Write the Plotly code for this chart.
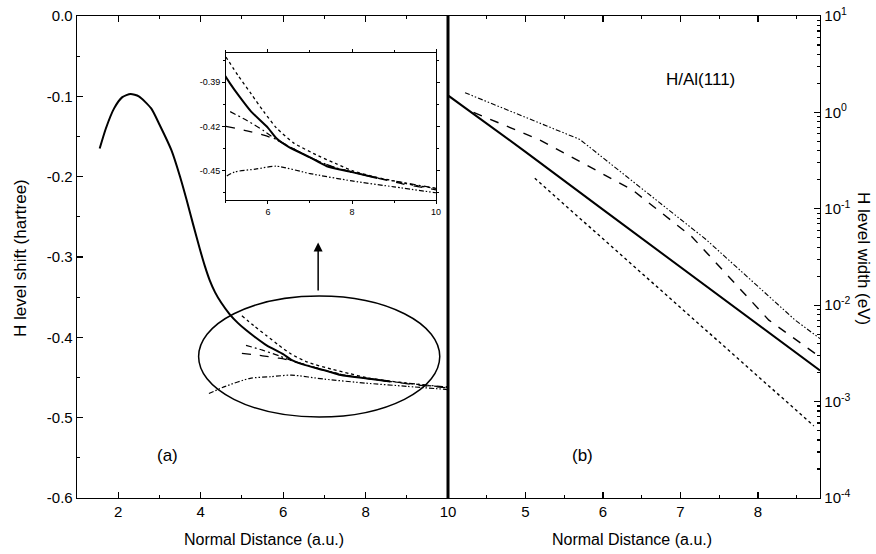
import plotly.graph_objects as go

# ---------------- data: panel (a) level shift ----------------
shift_solid_x = [1.55, 1.7, 1.9, 2.1, 2.3, 2.5, 2.8, 3.0, 3.29, 3.5, 3.66, 3.82, 3.98, 4.1, 4.22, 4.35,
                 4.5, 4.7, 4.9, 5.1, 5.3, 5.6, 6.0, 6.2, 6.5, 7.0, 7.4, 8.0, 8.6]
shift_solid_y = [-0.165, -0.14, -0.115, -0.101, -0.097, -0.100, -0.115, -0.135, -0.167, -0.200, -0.229,
                 -0.260, -0.290, -0.311, -0.329, -0.344, -0.357, -0.371, -0.382, -0.391, -0.399, -0.410,
                 -0.421, -0.428, -0.434, -0.441, -0.447, -0.451, -0.455]
shift_dotted_x = [5.0, 5.3, 5.6, 5.9, 6.2, 6.6, 7.2, 7.6, 8.0, 8.5, 9.0, 9.5, 10.0]
shift_dotted_y = [-0.373, -0.386, -0.398, -0.410, -0.421, -0.431, -0.440, -0.445, -0.450, -0.454, -0.457,
                  -0.460, -0.462]
shift_dashdot_x = [5.1, 5.5, 5.9, 6.2, 6.6, 7.0, 7.5, 8.0, 8.6, 9.2, 10.0]
shift_dashdot_y = [-0.410, -0.416, -0.423, -0.429, -0.435, -0.441, -0.447, -0.451, -0.455, -0.458, -0.462]
shift_dashed_x = [5.0, 5.5, 5.9, 6.2, 6.6, 7.0, 7.5, 8.0, 8.6, 9.2, 10.0]
shift_dashed_y = [-0.420, -0.423, -0.426, -0.429, -0.435, -0.441, -0.447, -0.451, -0.455, -0.459, -0.463]
shift_lower_x = [4.2, 4.6, 5.2, 5.7, 6.2, 7.0, 8.0, 9.0, 10.0]
shift_lower_y = [-0.470, -0.461, -0.451, -0.449, -0.447, -0.452, -0.457, -0.461, -0.465]

# ---------------- data: panel (b) level width ----------------
width_solid_x = [4.0, 5.0, 6.0, 7.0, 8.0, 8.8]
width_solid_y = [1.5, 0.39, 0.098, 0.025, 0.0064, 0.0021]
width_dashed_x = [4.33, 5.18, 6.38, 7.15, 8.14, 8.8]
width_dashed_y = [1.0, 0.52, 0.157, 0.051, 0.007, 0.0029]
width_dashdot_x = [4.22, 5.7, 7.33, 8.48, 8.8]
width_dashdot_y = [1.6, 0.525, 0.048, 0.007, 0.0045]
width_dotted_x = [5.12, 7.13, 8.72]
width_dotted_y = [0.207, 0.0076, 0.00056]

# ---------------- tick labels ----------------
left_y_vals = [0.0, -0.1, -0.2, -0.3, -0.4, -0.5, -0.6]
left_y_text = ["0.0", "-0.1", "-0.2", "-0.3", "-0.4", "-0.5", "-0.6"]
left_x_vals = [2, 4, 6, 8, 10]
right_x_vals = [5, 6, 7, 8]
right_y_vals = [1e1, 1e0, 1e-1, 1e-2, 1e-3, 1e-4]
right_y_text = ["10<sup>1</sup>", "10<sup>0</sup>", "10<sup>-1</sup>", "10<sup>-2</sup>",
                "10<sup>-3</sup>", "10<sup>-4</sup>"]
inset_y_vals = [-0.45, -0.42, -0.39]
inset_y_text = ["-0.45", "-0.42", "-0.39"]
inset_x_vals = [6, 8, 10]

FONT = "Liberation Sans, Arial, sans-serif"
K = "black"

fig = go.Figure()

def add(x, y, dash, width, xa, ya):
    fig.add_trace(go.Scatter(x=x, y=y, mode="lines", xaxis=xa, yaxis=ya,
                             line=dict(color=K, width=width, dash=dash, shape="spline", smoothing=0.6),
                             showlegend=False, hoverinfo="skip"))

DASHDOT = "6px,3px,2px,3px"
DASHDOTDOT = "5px,2px,1.5px,2px,1.5px,2px"

for xa, ya in (("x", "y"), ("x3", "y3")):
    add(shift_lower_x, shift_lower_y, DASHDOTDOT, 1.2, xa, ya)
    add(shift_dotted_x, shift_dotted_y, "dot", 1.3, xa, ya)
    add(shift_dashdot_x, shift_dashdot_y, DASHDOT, 1.2, xa, ya)
    add(shift_dashed_x, shift_dashed_y, "dash", 1.3, xa, ya)
    add(shift_solid_x, shift_solid_y, "solid", 2.0, xa, ya)

def addr(x, y, dash, width):
    fig.add_trace(go.Scatter(x=x, y=y, mode="lines", xaxis="x2", yaxis="y2",
                             line=dict(color=K, width=width, dash=dash),
                             showlegend=False, hoverinfo="skip"))

addr(width_dashdot_x, width_dashdot_y, DASHDOTDOT, 1.1)
addr(width_dashed_x, width_dashed_y, "dash", 1.4)
addr(width_solid_x, width_solid_y, "solid", 2.0)
addr(width_dotted_x, width_dotted_y, "dot", 1.4)

SPLIT = 371.0 / 743.0
tickfont = dict(family=FONT, size=15, color=K)

common_x = dict(showline=True, linecolor=K, linewidth=1.3, ticks="inside", ticklen=6, tickwidth=1.2,
                tickcolor=K, mirror="ticks", showgrid=False, zeroline=False, tickfont=tickfont,
                automargin=False, ticklabeloverflow="allow")

fig.update_layout(
    template="none",
    width=876, height=554,
    margin=dict(l=77, r=56, t=16, b=56, autoexpand=False),
    paper_bgcolor="white", plot_bgcolor="white",
    hovermode=False,
    xaxis=dict(domain=[0, SPLIT], range=[1, 10], tickvals=left_x_vals, anchor="y",
               minor=dict(dtick=1, tick0=0, ticks="inside", ticklen=3, tickcolor=K), **common_x),
    yaxis=dict(domain=[0, 1], range=[-0.6, 0], tickvals=left_y_vals, ticktext=left_y_text, anchor="x",
               showline=True, linecolor=K, linewidth=1.3, ticks="inside", ticklen=6, tickwidth=1.2,
               tickcolor=K, showgrid=False, zeroline=False, tickfont=tickfont, automargin=False,
               ticklabeloverflow="allow",
               minor=dict(dtick=0.05, tick0=0, ticks="inside", ticklen=3, tickcolor=K)),
    xaxis2=dict(domain=[SPLIT, 1], range=[4, 8.8], tickvals=right_x_vals, anchor="y2",
                minor=dict(dtick=0.5, tick0=0, ticks="inside", ticklen=3, tickcolor=K), **common_x),
    yaxis2=dict(domain=[0, 1], type="log", range=[-4, 1], anchor="x2", side="right",
                tickvals=right_y_vals, ticktext=right_y_text, automargin=False,
                ticklabeloverflow="allow",
                showline=True, linecolor=K, linewidth=1.3, ticks="inside", ticklen=6, tickwidth=1.2,
                tickcolor=K, showgrid=False, zeroline=False, tickfont=tickfont,
                minor=dict(ticks="inside", ticklen=3, tickcolor=K, dtick="D1", showgrid=False)),
    xaxis3=dict(domain=[0.2005, 0.4832], range=[5, 10], anchor="y3", tickvals=inset_x_vals,
                showline=True, linecolor=K, linewidth=1, mirror="ticks", ticks="outside", ticklen=3,
                tickcolor=K, showgrid=False, zeroline=False, automargin=False,
                tickfont=dict(family=FONT, size=9, color=K),
                minor=dict(dtick=1, tick0=0, ticks="outside", ticklen=2, tickcolor=K)),
    yaxis3=dict(domain=[0.618, 0.924], range=[-0.47, -0.37], anchor="x3",
                tickvals=inset_y_vals, ticktext=inset_y_text, automargin=False,
                showline=True, linecolor=K, linewidth=1, mirror="ticks", ticks="outside", ticklen=3,
                tickcolor=K, showgrid=False, zeroline=False,
                tickfont=dict(family=FONT, size=9, color=K),
                minor=dict(dtick=0.015, tick0=-0.45, ticks="outside", ticklen=2, tickcolor=K)),
    shapes=[
        dict(type="line", xref="paper", yref="paper", x0=SPLIT, x1=SPLIT, y0=0, y1=1,
             line=dict(color=K, width=3)),
        dict(type="circle", xref="x", yref="y", x0=3.95, x1=9.8, y0=-0.3486, y1=-0.4992,
             line=dict(color=K, width=1.5)),
    ],
)

def note(text, sx, sy, size=17, angle=0):
    fig.add_annotation(text=text, xref="paper", yref="paper", x=(sx - 77) / 743, y=(498 - sy) / 482,
                       xanchor="center", yanchor="middle", textangle=angle, showarrow=False,
                       font=dict(family=FONT, size=size, color=K))

fig.add_annotation(x=6.85, y=-0.282, ax=6.85, ay=-0.3436, xref="x", yref="y", axref="x", ayref="y",
                   text="", showarrow=True, arrowhead=2, arrowsize=1.2, arrowwidth=1.5, arrowcolor=K)
note("H level shift (hartree)", 20, 258, 17, -90)
note("H level width (eV)", 864, 258, 17, 90)
note("Normal Distance (a.u.)", 264, 539, 16)
note("Normal Distance (a.u.)", 632, 539, 16)
note("(a)", 167, 455, 17)
note("(b)", 582, 455, 17)
note("H/Al(111)", 700, 80, 17)

# remove the default 8px page margin so the 876x554 figure fills the window exactly
fig.write_html("out.html", config={"displayModeBar": False, "staticPlot": True},
               post_script="document.body.style.margin='0px';document.body.style.overflow='hidden';")
